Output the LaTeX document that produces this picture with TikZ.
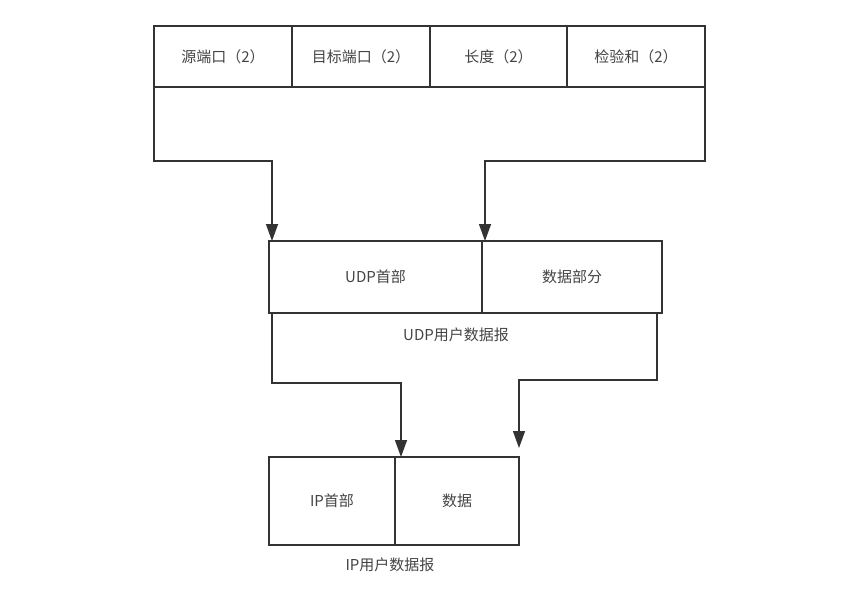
\documentclass[tikz,border=0pt]{standalone}
\usepackage{fontspec}
\newfontfamily\cjk{Noto Sans CJK SC}
\usetikzlibrary{arrows.meta,positioning}
\definecolor{linegray}{HTML}{333333}
\definecolor{textgray}{HTML}{444444}
\tikzset{
  cell/.style={draw=linegray, line width=1.5pt, rectangle, inner sep=0pt, outer sep=0pt,
    minimum height=#1, text=textgray, font=\cjk\fontsize{15}{17}\selectfont},
  cell/.default=61pt,
  link/.style={draw=linegray, line width=1.5pt, -{Triangle[length=17pt,width=12pt]}},
  caption/.style={text=textgray, font=\cjk\fontsize{15}{17}\selectfont}
}
\begin{document}
\begin{tikzpicture}[x=1pt,y=1pt]
  \useasboundingbox (0,0) rectangle (844,-591);
  % UDP header fields
  \node[cell, minimum width=138pt] (src) at (223,-56.5) {源端口（2）};
  \node[cell, minimum width=138pt, right=0pt of src] (dst) {目标端口（2）};
  \node[cell, minimum width=137pt, right=0pt of dst] (len) {长度（2）};
  \node[cell, minimum width=138pt, right=0pt of len] (chk) {检验和（2）};
  % UDP datagram
  \node[cell=72pt, minimum width=213pt] (udph) at (375.5,-277) {UDP首部};
  \node[cell=72pt, minimum width=180pt, right=0pt of udph] (udpd) {数据部分};
  \node[caption] (udpcap) at (456,-335) {UDP用户数据报};
  % IP datagram
  \node[cell=88pt, minimum width=126pt] (iph) at (332,-501) {IP首部};
  \node[cell=88pt, minimum width=124pt, right=0pt of iph] (ipd) {数据};
  \node[caption] (ipcap) at (390,-565) {IP用户数据报};
  \coordinate (ipend) at ([yshift=9pt]ipd.north east);
  % connectors
  \draw[link] (src.south west) -- ++(0,-74) -| ([xshift=3pt]udph.north west);
  \draw[link] (chk.south east) -- ++(0,-74) -| ([xshift=3pt]udpd.north west);
  \draw[link] ([xshift=3pt]udph.south west) -- ++(0,-70) -| ([xshift=6pt]iph.north east);
  \draw[link] ([xshift=-5pt]udpd.south east) -- ++(0,-67) -| (ipend);
\end{tikzpicture}
\end{document}
